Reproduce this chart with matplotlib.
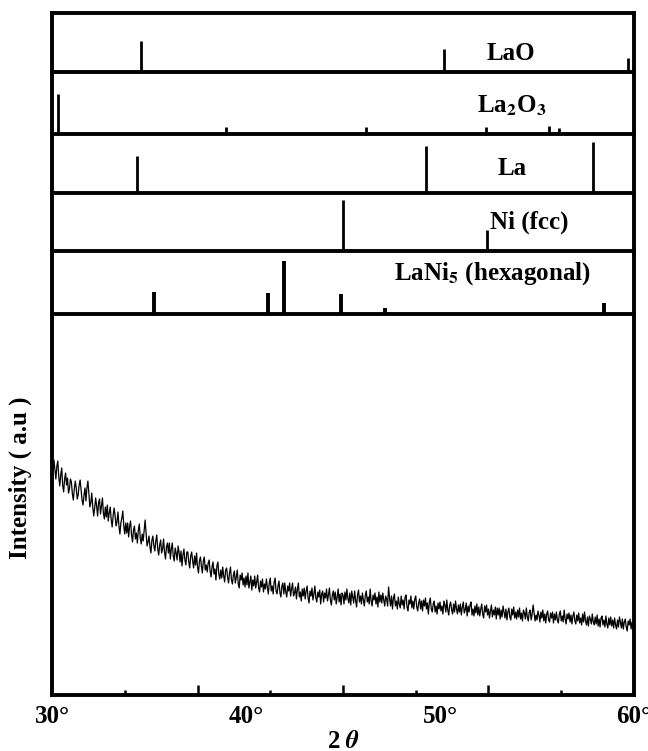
import numpy as np
import matplotlib
matplotlib.use("Agg")
import matplotlib.pyplot as plt

plt.rcParams['font.family'] = ['Liberation Serif', 'DejaVu Serif']
plt.rcParams['font.weight'] = 'bold'
plt.rcParams['mathtext.fontset'] = 'stix'

# reference stick patterns (2theta in degrees, relative height)
lao_pos = [34.60, 50.22, 59.69]
lao_h = [0.52, 0.38, 0.24]
la2o3_pos = [30.32, 38.97, 46.19, 52.36, 55.62, 56.12]
la2o3_h = [0.65, 0.11, 0.11, 0.11, 0.13, 0.09]
la_pos = [34.37, 49.28, 57.90]
la_h = [0.62, 0.80, 0.87]
ni_pos = [44.98, 52.41]
ni_h = [0.88, 0.36]
lani5_pos = [35.27, 41.12, 41.96, 44.88, 47.16, 58.47]
lani5_h = [0.35, 0.33, 0.84, 0.32, 0.10, 0.17]

# measured pattern, 30.00 .. 60.00 step 0.05
two_theta = np.arange(600, 1201) / 20.0
intensity = [
    210, 223, 235, 226, 216, 229, 234, 218, 209, 220, 227, 210, 203, 216, 222, 210, 217, 202, 206, 216,
    213, 201, 195, 206, 214, 207, 196, 200, 210, 215, 205, 195, 190, 200, 207, 194, 207, 214, 202, 188,
    192, 202, 188, 179, 187, 197, 189, 179, 192, 196, 181, 189, 197, 182, 176, 188, 178, 190, 174, 182,
    188, 176, 168, 179, 187, 180, 169, 173, 183, 169, 161, 172, 177, 184, 169, 161, 172, 162, 172, 158,
    169, 174, 160, 153, 165, 169, 156, 162, 152, 165, 171, 157, 151, 161, 154, 165, 175, 162, 149, 153,
    159, 148, 142, 155, 159, 149, 144, 154, 160, 146, 140, 150, 155, 142, 146, 156, 143, 136, 148, 152,
    142, 152, 136, 146, 152, 139, 134, 147, 142, 135, 149, 143, 133, 144, 129, 140, 146, 135, 130, 143,
    143, 133, 127, 139, 143, 134, 127, 139, 130, 142, 128, 122, 134, 138, 129, 122, 134, 138, 125, 130,
    123, 132, 135, 124, 118, 128, 133, 121, 126, 115, 129, 133, 121, 116, 125, 117, 128, 119, 113, 125,
    127, 118, 112, 122, 128, 115, 111, 120, 124, 112, 118, 125, 111, 107, 120, 115, 122, 110, 117, 108,
    119, 110, 122, 107, 113, 119, 105, 115, 109, 119, 107, 113, 120, 107, 103, 114, 108, 116, 103, 111,
    106, 116, 108, 101, 112, 117, 104, 109, 101, 113, 117, 104, 101, 109, 114, 102, 98, 109, 112, 101,
    112, 103, 98, 109, 104, 112, 99, 106, 112, 99, 102, 108, 96, 106, 112, 98, 103, 94, 106, 99,
    107, 96, 104, 109, 97, 92, 104, 99, 107, 95, 101, 109, 97, 93, 103, 98, 105, 91, 101, 104,
    93, 102, 97, 106, 94, 100, 107, 95, 90, 100, 104, 95, 103, 91, 98, 106, 93, 101, 90, 102,
    100, 91, 103, 95, 106, 97, 92, 102, 90, 104, 98, 92, 104, 95, 88, 100, 105, 93, 99, 91,
    102, 95, 89, 100, 104, 93, 98, 91, 106, 94, 89, 100, 95, 102, 91, 98, 88, 103, 93, 100,
    92, 102, 95, 89, 99, 96, 89, 108, 97, 89, 99, 86, 97, 101, 89, 94, 86, 98, 91, 87,
    99, 90, 95, 86, 98, 100, 88, 84, 95, 91, 99, 87, 94, 86, 96, 99, 88, 84, 92, 96,
    86, 94, 84, 95, 89, 97, 86, 92, 81, 93, 97, 86, 83, 91, 94, 83, 89, 81, 92, 86,
    93, 84, 89, 81, 94, 90, 83, 95, 85, 80, 90, 93, 85, 81, 91, 83, 94, 86, 81, 90,
    83, 91, 80, 88, 93, 82, 85, 92, 79, 89, 83, 90, 93, 80, 86, 79, 89, 82, 91, 80,
    88, 79, 86, 91, 81, 77, 89, 83, 90, 80, 86, 77, 84, 90, 78, 85, 80, 88, 76, 87,
    80, 87, 76, 85, 78, 89, 83, 77, 86, 75, 83, 87, 78, 75, 86, 80, 88, 77, 83, 76,
    85, 78, 87, 76, 82, 74, 85, 82, 76, 87, 78, 74, 83, 85, 75, 81, 90, 82, 74, 80,
    75, 84, 80, 73, 83, 77, 85, 74, 81, 72, 81, 84, 75, 73, 82, 77, 83, 72, 81, 75,
    83, 75, 72, 81, 84, 74, 79, 73, 85, 76, 71, 81, 76, 82, 73, 80, 71, 79, 83, 74,
    71, 80, 74, 82, 72, 77, 70, 81, 73, 83, 74, 70, 78, 69, 79, 76, 71, 81, 73, 70,
    78, 71, 80, 69, 76, 68, 77, 79, 70, 75, 68, 79, 71, 67, 77, 70, 78, 69, 75, 67,
    77, 70, 66, 75, 68, 78, 73, 67, 76, 66, 73, 76, 68, 64, 74, 70, 76, 66, 73, 67,
    70,
]

W, H = 648, 751
fig = plt.figure(figsize=(W / 100, H / 100), dpi=100)

left, right = 52, 634
bounds = [12.7, 71.7, 134, 193, 251, 314, 695]  # pixel rows of panel borders
spine_w = 2.8


def add_panel(top, bottom):
    ax = fig.add_axes([left / W, 1 - bottom / H, (right - left) / W, (bottom - top) / H])
    ax.set_xlim(30, 60)
    ax.patch.set_visible(False)
    for s in ax.spines.values():
        s.set_linewidth(spine_w)
    return ax


panels = [
    (lao_pos, lao_h, 'LaO', 53.66, 0.20, 2.0),
    (la2o3_pos, la2o3_h, 'La$_\\mathbf{2}$O$_\\mathbf{3}$', 53.7, 0.34, 2.0),
    (la_pos, la_h, 'La', 53.7, 0.30, 2.0),
    (ni_pos, ni_h, 'Ni (fcc)', 54.6, 0.39, 2.0),
    (lani5_pos, lani5_h, 'LaNi$_\\mathbf{5}$ (hexagonal)', 52.7, 0.54, 2.8),
]

for i, (pos, h, name, tx, ty, lw) in enumerate(panels):
    ax = add_panel(bounds[i], bounds[i + 1])
    ax.set_ylim(0, 1)
    ax.vlines(pos, 0, h, color='black', linewidth=lw)
    ax.set_xticks([])
    ax.set_yticks([])
    if i > 0:
        ax.spines['top'].set_visible(False)
    ax.text(tx, ty, name, ha='center', va='baseline', fontsize=18,
            fontweight='bold')

# main pattern
ax = add_panel(bounds[5], bounds[6])
ax.spines['top'].set_visible(False)
ax.plot(two_theta, intensity, color='black', linewidth=0.9)
ax.set_ylim(0, 381)
ax.set_yticks([])
ax.set_xticks([30, 40, 50, 60], ['30°', '40°', '50°', '60°'])
ax.tick_params(axis='x', length=0, pad=7, labelsize=18)

sec = ax.secondary_xaxis('bottom')
sec.set_xticks([37.5, 45, 52.5])
sec.set_xticks([33.75, 41.25, 48.75, 56.25], minor=True)
sec.tick_params(axis='x', which='major', direction='in', length=7, width=1.8,
                labelbottom=False)
sec.tick_params(axis='x', which='minor', direction='in', length=3.5, width=1.8)
sec.spines['bottom'].set_visible(False)

fig.text(20 / W, 1 - 478 / H, 'Intensity ( a.u )', rotation=90, ha='center',
         va='center', fontsize=18, fontweight='bold')
fig.text(343 / W, 1 - 741 / H, '2 $\\theta$', ha='center', va='center',
         fontsize=18)

plt.savefig('out.png', dpi=100)
plt.close()
